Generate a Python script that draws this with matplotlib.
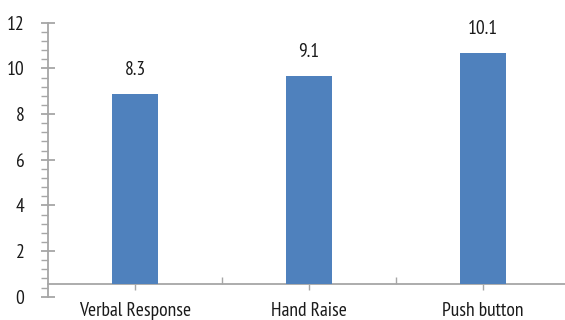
import matplotlib
matplotlib.use("Agg")
import matplotlib.pyplot as plt
from matplotlib import font_manager
from matplotlib.ticker import MultipleLocator, FixedLocator

categories = ["Verbal Response", "Hand Raise", "Push button"]
values = [8.3, 9.1, 10.1]
axis_cross = 0.57

bar_color = "#4f81bd"
axis_color = "#a6a6a6"
text_color = "#1a1a1a"

available = {f.name for f in font_manager.fontManager.ttflist}
preferred = ["PT Sans Narrow", "Fira Sans Condensed", "Encode Sans Condensed", "Archivo Narrow"]
chosen = [f for f in preferred if f in available][:1]
plt.rcParams['font.family'] = chosen + ['DejaVu Sans']
if not chosen:
    plt.rcParams['font.stretch'] = 'condensed'

fs = 14

fig = plt.figure(figsize=(5.65, 3.2), dpi=100)
ax = fig.add_axes([48/565, (320-296.7)/320, 522/565, 274/320])

x = list(range(len(categories)))
ax.bar(x, values, bottom=axis_cross, width=0.265, color=bar_color, zorder=3)

for xi, v in zip(x, values):
    ax.annotate(f"{v}", (xi, v + axis_cross), xytext=(0, 11), textcoords="offset points",
                ha="center", va="bottom", fontsize=fs, color=text_color)

ax.set_xlim(-0.5, 2.5)
ax.set_ylim(0, 12)

for s in ["top", "right"]:
    ax.spines[s].set_visible(False)
ax.spines["left"].set_color(axis_color)
ax.spines["bottom"].set_color(axis_color)
ax.spines["left"].set_linewidth(1.3)
ax.spines["bottom"].set_linewidth(1.3)
ax.spines["bottom"].set_position(("data", axis_cross))

ax.yaxis.set_major_locator(MultipleLocator(2))
ax.yaxis.set_minor_locator(MultipleLocator(0.4))
ax.tick_params(axis="y", which="major", direction="inout", length=10, width=1.3,
               color=axis_color, labelsize=fs, pad=12, labelcolor=text_color)
ax.tick_params(axis="y", which="minor", direction="out", length=5, width=1.0, color=axis_color)

ax.set_xticks(x)
ax.set_xticklabels(categories)
ax.xaxis.set_minor_locator(FixedLocator([0.5, 1.5]))
ax.tick_params(axis="x", which="major", direction="out", length=4, width=1.0,
               color=axis_color, labelsize=fs, pad=9, labelcolor=text_color)
ax.tick_params(axis="x", which="minor", direction="in", length=5, width=1.0, color=axis_color)

fig.savefig("out.png", dpi=100)
